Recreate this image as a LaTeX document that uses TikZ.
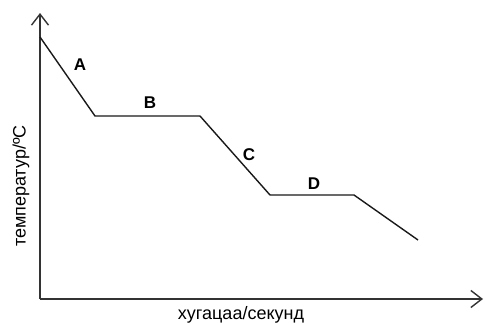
\documentclass[tikz,border=0pt]{standalone}
\usepackage{fontspec}
\setmainfont{Liberation Sans}
\usetikzlibrary{arrows.meta}
\begin{document}
\begin{tikzpicture}[x=1pt,y=-1pt,
  axis/.style={line width=1.6pt,draw=black!80,-{Straight Barb[length=11pt,width=17pt,line width=1.4pt]}},
  curve/.style={line width=1.4pt,draw=black!90,line join=miter},
  seglabel/.style={font=\fontsize{17}{19}\selectfont\bfseries,inner sep=0pt},
  axlabel/.style={font=\fontsize{18}{20}\selectfont,inner sep=0pt}]
\useasboundingbox (0,0) rectangle (485,324);
\coordinate (O) at (40,299);
\coordinate (Ytop) at (40,13);
\coordinate (Xend) at (483,299);
\draw[axis] (O) -- (Ytop);
\draw[axis] (O) -- (Xend);
\coordinate (p0) at (40,37);
\coordinate (p1) at (95,116);
\coordinate (p2) at (200,116);
\coordinate (p3) at (270,195);
\coordinate (p4) at (354,195);
\coordinate (p5) at (418,240);
\draw[curve] (p0) -- (p1) -- (p2) -- (p3) -- (p4) -- (p5);
\node[seglabel] (A) at (80,65) {A};
\node[seglabel] (B) at (150,103) {B};
\node[seglabel] (C) at (249,155) {C};
\node[seglabel] (D) at (314,184) {D};
\node[axlabel,rotate=90] (ylab) at (21,186) {температур/ºC};
\node[axlabel] (xlab) at (241,315) {хугацаа/секунд};
\end{tikzpicture}
\end{document}
